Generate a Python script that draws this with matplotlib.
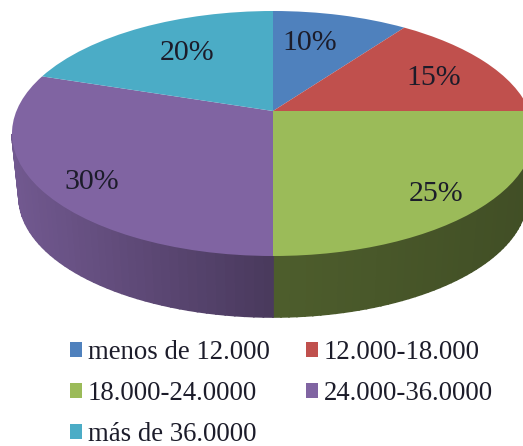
import numpy as np
import matplotlib
matplotlib.use('Agg')
import matplotlib.pyplot as plt
from matplotlib.transforms import Transform

# datos
categorias = ['menos de 12.000', '12.000-18.000', '18.000-24.0000', '24.000-36.0000', 'más de 36.0000']
valores = [10, 15, 25, 30, 20]
colores = ['#4F81BD', '#C0504D', '#9BBB59', '#8064A2', '#4BACC6']
etiquetas = ['10%', '15%', '25%', '30%', '20%']

# geometria de la elipse, en pixeles
cx, cy = 273.0, 133.5
rx, ry = 261.0, 122.5
apice = 111.0
cx_b, cy_b, rx_b, ry_b = 273.0, 197.0, 254.0, 120.0


class Perspectiva(Transform):
    # lleva el circulo unidad a la elipse, con el centro del pie en el apice
    input_dims = 2
    output_dims = 2
    has_inverse = False

    def transform_non_affine(self, values):
        values = np.asarray(values, float)
        u, v = values[:, 0], values[:, 1]
        b = cy - apice
        c = b / ry
        k = rx * np.sqrt(1 - c ** 2)
        den = 1 + c * v
        return np.column_stack([cx + k * u / den, cy - (ry * v + b) / den])


def sombra(x):
    # factor de oscurecimiento del lateral
    izq = 0.57 + 0.31 * (cx - x) / 253
    der = 0.50 - 0.08 * (x - cx) / 250
    return np.where(x < cx, izq, der)


fig = plt.figure(figsize=(5.23, 4.46), dpi=100)
ax = fig.add_axes([0, 0, 1, 1])
proj = Perspectiva()

# lateral del pie, solo la parte visible
bordes = 90 - 360 * np.cumsum([0] + valores) / sum(valores)
for i in range(len(valores)):
    th = np.radians(np.linspace(bordes[i], bordes[i + 1], 61))
    arriba = proj.transform_non_affine(np.column_stack([np.cos(th), np.sin(th)]))
    x0 = cx_b + (arriba[:, 0] - cx) * rx_b / rx
    y0 = cy_b + (arriba[:, 1] - cy) * ry_b / ry
    base = np.array(matplotlib.colors.to_rgb(colores[i]))
    for j in range(len(th) - 1):
        if arriba[j, 1] < cy or arriba[j + 1, 1] < cy:
            continue
        xs = [arriba[j, 0], arriba[j + 1, 0], x0[j + 1], x0[j]]
        ys = [arriba[j, 1], arriba[j + 1, 1], y0[j + 1], y0[j]]
        f = float(sombra(np.array(np.mean(xs))))
        ax.fill(xs, ys, color=base * f, lw=1.2, zorder=1)

# cara superior
wedges, _ = ax.pie(valores, colors=colores, startangle=90, counterclock=False, radius=1)
for w in wedges:
    w.set_transform(proj + ax.transData)
    w.set_zorder(2)
    w.set_linewidth(0)

ax.set_aspect('auto')
ax.set_xlim(0, 523)
ax.set_ylim(446, 0)
ax.axis('off')

serif = 'Liberation Serif'
pos_etiquetas = [(310, 43), (434, 78), (436, 194), (92, 182), (187, 53)]
for txt, (px, py) in zip(etiquetas, pos_etiquetas):
    ax.text(px, py, txt, family=serif, fontsize=21.5, color='#1c1c2a',
            ha='center', va='center', zorder=3)

# leyenda: matplotlib llena por columnas, asi que se reordena
orden = [0, 2, 4, 1, 3]
ax.legend([wedges[i] for i in orden], [categorias[i] for i in orden],
          ncols=2, frameon=False, loc='upper left', bbox_to_anchor=(70, 340),
          bbox_transform=ax.transData, borderpad=0, borderaxespad=0,
          prop={'family': serif, 'size': 19.3}, handlelength=0.46, handleheight=0.46,
          handletextpad=0.2, labelspacing=0.6, columnspacing=1.36, labelcolor='#1c1c2a')

fig.savefig('out.png', dpi=100, facecolor='white')
